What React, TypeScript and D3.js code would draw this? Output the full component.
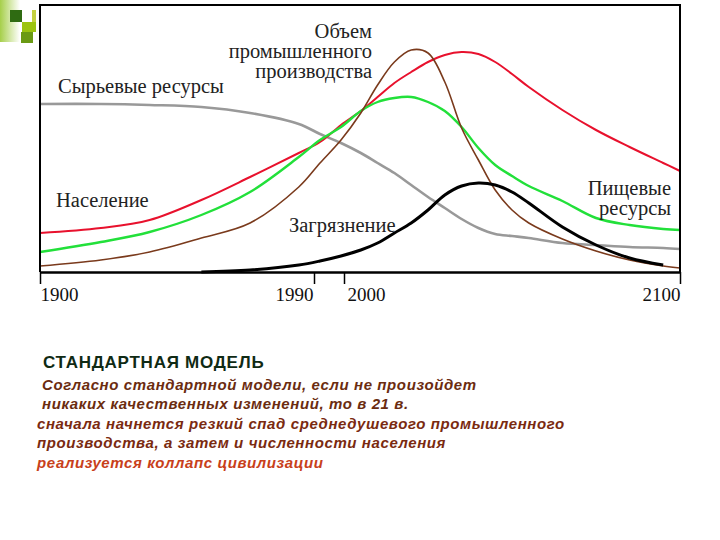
import { useEffect, useRef } from 'react';
import * as d3 from 'd3';

// model years, axis is not quite linear in the source picture
const years = [1900, 1920, 1936, 1953, 1969, 1985, 1992, 1999, 2005, 2010, 2015, 2020, 2025, 2030, 2035, 2040, 2045, 2050, 2055, 2065, 2075, 2085, 2095, 2100];
const food = [39, 44, 52, 72, 95, 119, 130, 147, 161, 175, 189, 200, 210, 217, 220, 218, 210, 198, 185, 162, 142, 125, 109, 101];
const population = [20, 30, 40, 57, 80, 115, 132, 145, 161, 170, 174, 175, 170, 161, 145, 124, 107, 96, 86, 71, 54, 47, 43, 42];
const industry = [6, 12, 20, 34, 49, 85, 109, 132, 159, 187, 210, 222, 219, 190, 144, 112, 82, 62, 49, 33, 21, 12, 6, 4];
const resources = [168, 168, 167, 165, 159, 148, 138, 129, 119, 109, 99, 87, 75, 64, 53, 44, 38, 36, 34, 29, 27, 25, 24, 23];
const pollution = [null, null, null, 0, 2, 7, 11, 16, 22, 29, 39, 49, 62, 77, 86, 89, 87, 80, 69, 45, 27, 14, 7, null];

const tickYears = [1900, 1990, 2000, 2100];

const seriesList = [
    { values: resources, color: '#999999', width: 2.6 },
    { values: food, color: '#e8112d', width: 2 },
    { values: population, color: '#22e03a', width: 2.4 },
    { values: industry, color: '#7a3a1c', width: 1.6 },
    { values: pollution, color: '#000000', width: 3 },
];

const chartLabels = [
    { lines: ['Объем', 'промышленного', 'производства'], x: 372, y: 38, anchor: 'end' },
    { lines: ['Сырьевые ресурсы'], x: 58, y: 93, anchor: 'start' },
    { lines: ['Население'], x: 56, y: 207, anchor: 'start' },
    { lines: ['Загрязнение'], x: 289, y: 232, anchor: 'start' },
    { lines: ['Пищевые', 'ресурсы'], x: 671, y: 195, anchor: 'end' },
];

const captionLines = [
    { text: 'Согласно стандартной модели, если не произойдет', x: 42, y: 390, color: '#6b2c10' },
    { text: 'никаких качественных изменений, то в 21 в.', x: 42, y: 409, color: '#6b2c10' },
    { text: 'сначала начнется резкий спад среднедушевого промышленного', x: 37, y: 429, color: '#7a2a10' },
    { text: 'производства, а затем и численности населения', x: 37, y: 448, color: '#7a2a10' },
    { text: 'реализуется коллапс цивилизации', x: 37, y: 468, color: '#c8401a' },
];

const App = () => {
    const svgRef = useRef<SVGSVGElement>(null);

    useEffect(() => {
        if (!svgRef.current) return;

        const svg = d3.select(svgRef.current);
        svg.selectAll('*').remove();

        // logo block in the corner
        const defs = svg.append('defs');
        const grad = defs.append('linearGradient').attr('id', 'logoFade');
        grad.append('stop').attr('offset', '0%').attr('stop-color', '#a6cf4a');
        grad.append('stop').attr('offset', '100%').attr('stop-color', '#ffffff');
        svg.append('rect').attr('x', 0).attr('y', 0).attr('width', 20).attr('height', 42).attr('fill', 'url(#logoFade)');
        svg.append('rect').attr('x', 10).attr('y', 10).attr('width', 12).attr('height', 12).attr('fill', '#2f6b12');
        svg.append('rect').attr('x', 32).attr('y', 10).attr('width', 4).attr('height', 12).attr('fill', '#c4d040');
        svg.append('rect').attr('x', 22).attr('y', 22).attr('width', 14).attr('height', 10).attr('fill', '#9cc410');
        svg.append('rect').attr('x', 21).attr('y', 32).attr('width', 12).attr('height', 11).attr('fill', '#6a9a14');

        const x = d3.scaleLinear().domain([1900, 1990, 2000, 2100]).range([40, 314, 344, 680]);
        const y = d3.scaleLinear().domain([0, 267]).range([272, 5]);

        const line = d3.line<number | null>()
            .defined(d => d !== null)
            .x((_, i) => x(years[i]))
            .y(d => y(d as number))
            .curve(d3.curveCatmullRom.alpha(0.5));

        seriesList.forEach(s => {
            svg.append('path')
                .datum(s.values)
                .attr('d', line)
                .attr('fill', 'none')
                .attr('stroke', s.color)
                .attr('stroke-width', s.width);
        });

        // frame
        svg.append('path')
            .attr('d', `M${x(1900)},${y(0)}V${y(267)}H${x(2100)}V${y(0)}`)
            .attr('fill', 'none').attr('stroke', '#000').attr('stroke-width', 2);

        const axis = svg.append('g')
            .attr('transform', `translate(0,${y(0)})`)
            .call(d3.axisBottom(x).tickValues(tickYears).tickFormat(d3.format('d')).tickSize(12).tickSizeOuter(0));
        axis.select('.domain').attr('stroke-width', 2.5);
        axis.selectAll('.tick line').attr('stroke-width', 1.5);
        axis.selectAll<SVGTextElement, number>('.tick text')
            .attr('y', 16)
            .attr('dy', '0.71em')
            .attr('font-family', '"Liberation Serif"')
            .attr('font-size', 19)
            .attr('fill', '#111')
            .attr('text-anchor', d => (d === 1900 || d === 2000 ? 'start' : 'end'))
            .attr('dx', d => (d === 2000 ? 3 : d === 1990 ? -1 : 0));

        chartLabels.forEach(l => {
            const t = svg.append('text')
                .attr('font-family', '"Liberation Serif"')
                .attr('font-size', 20.5)
                .attr('fill', '#222')
                .attr('text-anchor', l.anchor);
            l.lines.forEach((s, i) => {
                t.append('tspan').attr('x', l.x).attr('y', l.y + i * 20).text(s);
            });
        });

        svg.append('text')
            .attr('x', 43).attr('y', 368)
            .attr('font-family', '"Liberation Sans"')
            .attr('font-size', 17)
            .attr('font-weight', 'bold')
            .attr('letter-spacing', 0.75)
            .attr('fill', '#0f2a14')
            .text('СТАНДАРТНАЯ МОДЕЛЬ');

        captionLines.forEach(c => {
            svg.append('text')
                .attr('x', c.x).attr('y', c.y)
                .attr('font-family', '"Liberation Sans"')
                .attr('font-size', 15)
                .attr('font-weight', 'bold')
                .attr('font-style', 'italic')
                .attr('letter-spacing', 0.6)
                .attr('fill', c.color)
                .text(c.text);
        });
    }, []);

    return <svg ref={svgRef} width={720} height={540} style={{ position: 'absolute', left: 0, top: 0, background: '#fff' }} />;
};

export default App;
